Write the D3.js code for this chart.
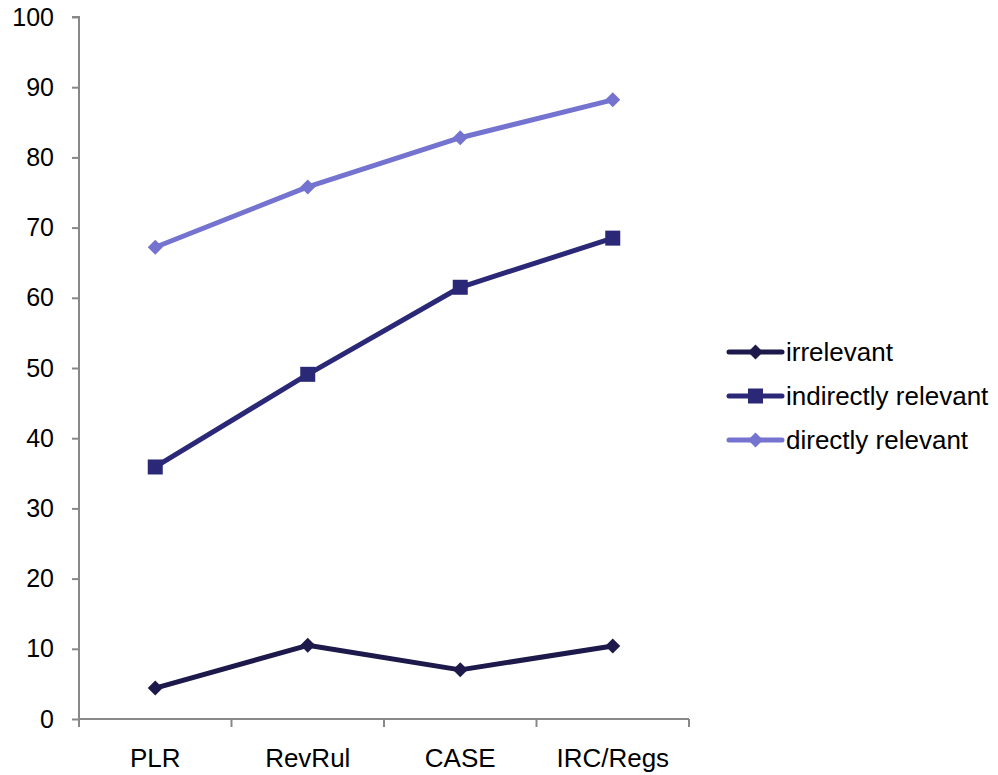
<!DOCTYPE html>
<html>
<head>
<meta charset="utf-8">
<script src="https://cdn.jsdelivr.net/npm/d3@7"></script>
<style>
  body { margin: 0; background: #fff; }
  svg text { font-family: "Liberation Sans", Arial, sans-serif; fill: #000; }
</style>
</head>
<body>
<div id="chart"></div>
<script>
// chart values
var categories = ["PLR", "RevRul", "CASE", "IRC/Regs"];
var irrelevant = [4.4, 10.5, 7.0, 10.4];
var indirectlyRelevant = [35.9, 49.1, 61.5, 68.5];
var directlyRelevant = [67.2, 75.8, 82.8, 88.2];
var yTicks = [0, 10, 20, 30, 40, 50, 60, 70, 80, 90, 100];

var series = [
    { name: "irrelevant", values: irrelevant, color: "#1d1a4b", marker: "diamond" },
    { name: "indirectly relevant", values: indirectlyRelevant, color: "#2a2877", marker: "square" },
    { name: "directly relevant", values: directlyRelevant, color: "#7473d0", marker: "diamond" }
];

var width = 998,
    height = 775;

var svg = d3.select("#chart").append("svg")
    .attr("width", width)
    .attr("height", height);

var x = d3.scaleBand()
    .domain(categories)
    .range([79, 689]);

var y = d3.scaleLinear()
    .domain([0, 100])
    .range([719, 17]);

var axisColor = "#888";

// y axis
var yAxis = svg.append("g")
    .attr("transform", "translate(79,0)")
    .call(d3.axisLeft(y).tickValues(yTicks).tickSize(7).tickPadding(18).tickFormat(d3.format("d")));
yAxis.select(".domain").attr("stroke", axisColor).attr("stroke-width", 2).attr("d", "M-7,17H0V719");
yAxis.selectAll(".tick line").attr("stroke", axisColor).attr("stroke-width", 2);
yAxis.selectAll(".tick text").attr("font-size", 25).attr("font-family", "Liberation Sans, Arial, sans-serif");

// x axis
var xAxis = svg.append("g")
    .attr("transform", "translate(0,719)")
    .call(d3.axisBottom(x).tickSize(0).tickPadding(30));
xAxis.select(".domain").attr("stroke", axisColor).attr("stroke-width", 2).attr("d", "M79,0H689");
xAxis.selectAll(".tick text").attr("font-size", 26).attr("font-family", "Liberation Sans, Arial, sans-serif");

// category separator ticks
var sep = [x.range()[0]].concat(categories.map(function(c) { return x(c) + x.bandwidth(); }));
svg.append("g").selectAll("line")
    .data(sep)
    .enter().append("line")
    .attr("x1", function(d) { return d; })
    .attr("x2", function(d) { return d; })
    .attr("y1", 719)
    .attr("y2", 727)
    .attr("stroke", axisColor)
    .attr("stroke-width", 2);

var line = d3.line()
    .x(function(d, i) { return x(categories[i]) + x.bandwidth() / 2; })
    .y(function(d) { return y(d); });

function drawMarker(g, type, cx, cy, color) {
    if (type === "square") {
        g.append("rect")
            .attr("x", cx - 7.5).attr("y", cy - 7.5)
            .attr("width", 15).attr("height", 15)
            .attr("fill", color);
    } else {
        g.append("path")
            .attr("d", "M" + cx + "," + (cy - 7.5) + "L" + (cx + 7.5) + "," + cy + "L" + cx + "," + (cy + 7.5) + "L" + (cx - 7.5) + "," + cy + "Z")
            .attr("fill", color);
    }
}

series.forEach(function(s) {
    var g = svg.append("g");
    g.append("path")
        .datum(s.values)
        .attr("d", line)
        .attr("fill", "none")
        .attr("stroke", s.color)
        .attr("stroke-width", 5)
        .attr("stroke-linejoin", "round");
    s.values.forEach(function(v, i) {
        drawMarker(g, s.marker, x(categories[i]) + x.bandwidth() / 2, y(v), s.color);
    });
});

// legend
var legend = svg.append("g");
series.forEach(function(s, i) {
    var ly = 352 + i * 44;
    var g = legend.append("g");
    g.append("line")
        .attr("x1", 729).attr("x2", 782)
        .attr("y1", ly).attr("y2", ly)
        .attr("stroke", s.color)
        .attr("stroke-width", 5)
        .attr("stroke-linecap", "round");
    drawMarker(g, s.marker, 755.5, ly, s.color);
    g.append("text")
        .attr("x", 786)
        .attr("y", ly)
        .attr("dy", "0.35em")
        .attr("font-size", 26)
        .text(s.name);
});
</script>
</body>
</html>
